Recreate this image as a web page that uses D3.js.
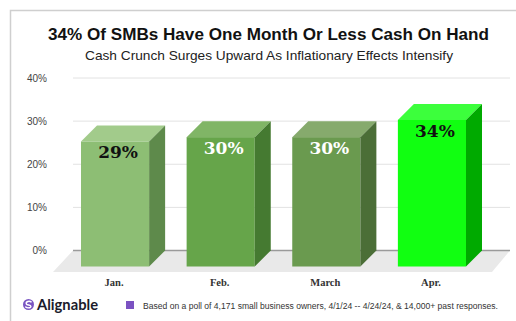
<!DOCTYPE html>
<html>
<head>
<meta charset="utf-8">
<script src="https://cdn.jsdelivr.net/npm/d3@7"></script>
<style>
  html, body { margin: 0; padding: 0; background: #fff; }
  svg { display: block; }
</style>
</head>
<body>
<svg id="chart" width="516" height="321"></svg>
<script>
// Share of SMBs with one month or less of cash on hand, by month
const categories = ["Jan.", "Feb.", "March", "Apr."];
const values = [29, 30, 30, 34];
const valueLabels = ["29%", "30%", "30%", "34%"];
const yTicks = [0, 10, 20, 30, 40];

// face colours per bar: front, side, top, label
const frontColors = ["#8dbe74", "#66a54a", "#6a9a4f", "#11ff11"];
const sideColors  = ["#5e8a4b", "#457a31", "#4b6e37", "#00aa00"];
const topColors   = ["#a2cb8b", "#80b566", "#86aa6d", "#3cff3c"];
const labelColors = ["#111", "#fff", "#fff", "#111"];

const svg = d3.select("#chart");
const D = 16; // 3D depth offset

const y = d3.scaleLinear().domain([0, 40]).range([250.5, 78]);
const x = d3.scaleBand().domain(categories)
  .range([62.25, 484.75]).paddingInner(0.355).paddingOuter(0.1775);
const bw = x.bandwidth();

// frame
svg.append("path")
  .attr("d", "M10.5,321 V10.5 H516")
  .attr("fill", "none").attr("stroke", "#cfcfcf").attr("stroke-width", 1.5);

// titles
svg.append("text").attr("x", 48).attr("y", 39.5)
  .attr("font-family", "Liberation Sans, Arial, sans-serif")
  .attr("font-weight", "bold").attr("font-size", 16.5).attr("fill", "#111")
  .attr("textLength", 441).attr("lengthAdjust", "spacingAndGlyphs")
  .text("34% Of SMBs Have One Month Or Less Cash On Hand");
svg.append("text").attr("x", 85).attr("y", 59.5)
  .attr("font-family", "Liberation Sans, Arial, sans-serif")
  .attr("font-size", 13.5).attr("fill", "#222")
  .attr("textLength", 368).attr("lengthAdjust", "spacingAndGlyphs")
  .text("Cash Crunch Surges Upward As Inflationary Effects Intensify");

// floor
const gx0 = 73, gx1 = 510, y0 = y(0);
svg.append("path")
  .attr("d", `M${gx0},${y0} L${gx1},${y0} L${gx1 - 18},${y0 + 21.5} L${gx0 - 20},${y0 + 21.5} Z`)
  .attr("fill", "#e9e9e9");

// gridlines
svg.append("g").selectAll("line").data(yTicks).join("line")
  .attr("x1", gx0).attr("x2", gx1)
  .attr("y1", d => y(d)).attr("y2", d => y(d))
  .attr("stroke", d => d === 0 ? "#9a9a9a" : "#e2e2e2")
  .attr("stroke-width", d => d === 0 ? 1.5 : 1);

// y axis labels
const yAxis = d3.axisLeft(y).tickValues(yTicks).tickSize(0).tickPadding(0)
  .tickFormat(d => d + "%");
const ya = svg.append("g").attr("transform", "translate(47,0)").call(yAxis);
ya.select(".domain").remove();
ya.selectAll("text")
  .attr("font-family", "Liberation Sans, Arial, sans-serif")
  .attr("font-size", 10).attr("fill", "#444");

// bars
const bars = svg.append("g").selectAll("g").data(values).join("g");
bars.each(function (v, i) {
  const g = d3.select(this);
  const xl = x(categories[i]), xr = xl + bw;
  const yt = y(v) + D, yb = y(0) + D;
  g.append("rect").attr("x", xl).attr("y", yt).attr("width", bw).attr("height", yb - yt)
    .attr("fill", frontColors[i]);
  g.append("path")
    .attr("d", `M${xl},${yt} L${xl + D},${yt - D} L${xr + D},${yt - D} L${xr},${yt} Z`)
    .attr("fill", topColors[i]);
  g.append("path")
    .attr("d", `M${xr},${yt} L${xr + D},${yt - D} L${xr + D},${yb - D} L${xr},${yb} Z`)
    .attr("fill", sideColors[i]);
  g.append("text")
    .attr("x", xl + bw / 2 + 3).attr("y", yt + 17)
    .attr("text-anchor", "middle")
    .attr("font-family", "DejaVu Serif, Georgia, serif")
    .attr("font-weight", "bold").attr("font-size", 17)
    .attr("fill", labelColors[i])
    .text(valueLabels[i]);
});

// category labels
svg.append("g").selectAll("text").data(categories).join("text")
  .attr("x", d => x(d) + bw / 2 - 1).attr("y", 285.5)
  .attr("text-anchor", "middle")
  .attr("font-family", "Liberation Serif, Times New Roman, serif")
  .attr("font-weight", "bold").attr("font-size", 10.5).attr("fill", "#333")
  .text(d => d);

// footer: logo
const logo = svg.append("g").attr("transform", "translate(28.5,304.5)");
logo.append("circle").attr("r", 5.5).attr("fill", "#7a55c2");
logo.append("path")
  .attr("d", "M2.6,-2.6 C1,-4 -3,-3 -2.2,-0.6 C-1.5,1 2.2,0 2.4,1.8 C2.6,3.6 -1.5,3.8 -2.8,2.4")
  .attr("fill", "none").attr("stroke", "#fff").attr("stroke-width", 1.4)
  .attr("stroke-linecap", "round");
svg.append("text").attr("x", 37).attr("y", 310)
  .attr("font-family", "Lato, sans-serif").attr("font-weight", "bold")
  .attr("font-size", 16).attr("fill", "#1b1b2b")
  .attr("textLength", 61).attr("lengthAdjust", "spacingAndGlyphs")
  .text("Alignable");

// footer: note
svg.append("rect").attr("x", 126).attr("y", 301).attr("width", 8).attr("height", 8)
  .attr("fill", "#7b52c2");
svg.append("text").attr("x", 143).attr("y", 308.5)
  .attr("font-family", "Liberation Sans, Arial, sans-serif")
  .attr("font-size", 8.4).attr("fill", "#333")
  .attr("textLength", 355).attr("lengthAdjust", "spacingAndGlyphs")
  .text("Based on a poll of 4,171 small business owners, 4/1/24 -- 4/24/24, & 14,000+ past responses.");
</script>
</body>
</html>
